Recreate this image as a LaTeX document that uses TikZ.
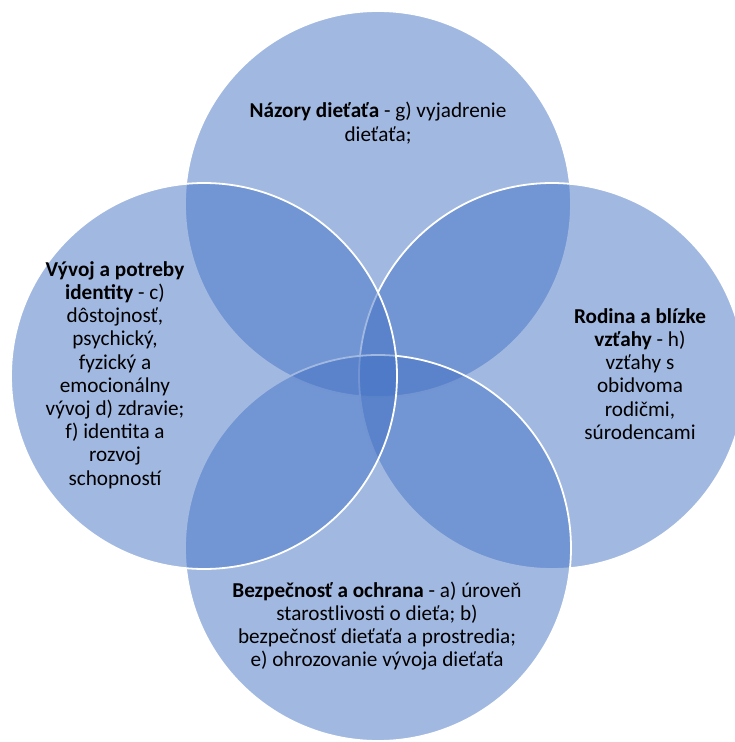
\documentclass[tikz,border=0pt]{standalone}
\usepackage{fontspec}
\setmainfont{Carlito}
\definecolor{ringblue}{HTML}{4472C4}
\begin{document}
\begin{tikzpicture}[x=1pt,y=-1pt,
  ring/.style={circle, minimum size=386pt, inner sep=0pt, draw=white, line width=1.8pt, fill=ringblue, fill opacity=0.5},
  label/.style={align=center, text=black, font=\fontsize{21.2}{23.2}\selectfont, inner sep=0pt}]
\useasboundingbox (0,0) rectangle (734,742);
\node[ring] (ctop) at (378,204) {};
\node[ring] (cright) at (552,376) {};
\node[ring] (cbottom) at (378,548) {};
\node[ring] (cleft) at (204,376) {};
\node[label] (ttop) at (378,123) {\textbf{Názory dieťaťa} - g) vyjadrenie\\dieťaťa;};
\node[label] (tleft) at (115,375) {\textbf{Vývoj a potreby}\\\textbf{identity} - c)\\dôstojnosť,\\psychický,\\fyzický a\\emocionálny\\vývoj d) zdravie;\\f) identita a\\rozvoj\\schopností};
\node[label] (tright) at (640,374) {\textbf{Rodina a blízke}\\\textbf{vzťahy} - h)\\vzťahy s\\obidvoma\\rodičmi,\\súrodencami};
\node[label] (tbottom) at (377,626) {\textbf{Bezpečnosť a ochrana} - a) úroveň\\starostlivosti o dieťa; b)\\bezpečnosť dieťaťa a prostredia;\\e) ohrozovanie vývoja dieťaťa};
\end{tikzpicture}
\end{document}
